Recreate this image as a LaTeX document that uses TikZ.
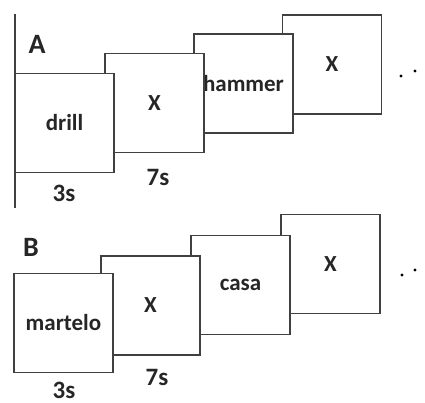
\documentclass[tikz,border=0pt]{standalone}
\usepackage{fontspec}
\setmainfont{Carlito}
\begin{document}
\begin{tikzpicture}[x=1pt,y=-1pt,
  frame/.style={draw=black!75,line width=1.3pt,fill=white,rectangle,inner sep=0pt,
    minimum width=99pt,minimum height=99pt,font=\fontsize{23}{25}\selectfont\bfseries,text=black!85},
  lbl/.style={font=\fontsize{25}{27}\selectfont\bfseries,text=black!85,inner sep=0pt},
  head/.style={font=\fontsize{28}{30}\selectfont\bfseries,text=black!85,inner sep=0pt},
  dot/.style={circle,fill=black,inner sep=0pt,minimum size=3.2pt}]
\useasboundingbox (0,0) rectangle (425,403);
% vertical rule
\coordinate (vtop) at (15,14);
\coordinate (vbot) at (15,208);
\draw[black!75,line width=1.3pt] (vtop) -- (vbot);
% Panel A
\node[head] (labA) at (37,44) {A};
\node[frame] (a4) at (332,64.5) {X};
\node[frame] (a3) at (243.5,83.5) {hammer};
\node[frame] (a2) at (154.5,103) {X};
\node[frame] (a1) at (64.5,123) {drill};
\node[lbl] (a3s) at (64,193) {3s};
\node[lbl] (a7s) at (158,177) {7s};
\node[dot] (ad1) at (401,76) {};
\node[dot] (ad2) at (415,71) {};
% Panel B
\node[head] (labB) at (31,247) {B};
\node[frame] (b4) at (330.5,264) {X};
\node[frame] (b3) at (240.5,285) {casa};
\node[frame] (b2) at (150.5,305.5) {X};
\node[frame] (b1) at (63.5,323) {martelo};
\node[lbl] (b3s) at (64,390) {3s};
\node[lbl] (b7s) at (157,377) {7s};
\node[dot] (bd1) at (402,275) {};
\node[dot] (bd2) at (415,270) {};
\end{tikzpicture}
\end{document}
